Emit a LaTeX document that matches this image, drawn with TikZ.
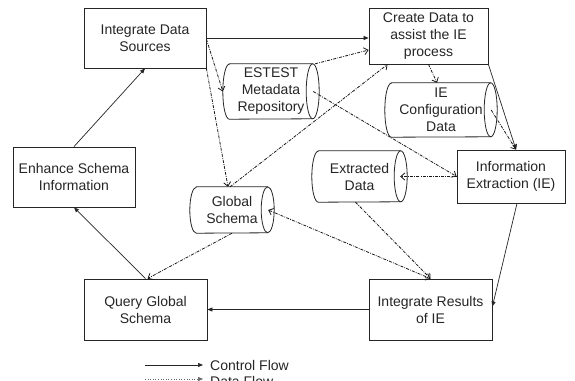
\documentclass[tikz,border=0pt]{standalone}
\usepackage{fontspec}
\setmainfont{Liberation Sans}
\usetikzlibrary{arrows.meta,calc}
\tikzset{
  lbl/.style={font=\fontsize{14}{17}\selectfont, text=black!85},
  box/.style={lbl, draw=black!85, line width=0.8pt, align=center, inner sep=2pt},
  cyltext/.style={lbl, align=center, inner sep=0pt},
  cylline/.style={draw=black!85, line width=0.8pt},
  ctrl/.style={draw=black!85, line width=0.7pt, -{Triangle[length=5pt,width=4pt]}},
  dataf/.style={draw=black!90, line width=0.8pt, dash pattern=on 3pt off 1.2pt on 0.8pt off 1.2pt, -{Straight Barb[length=4pt,width=7pt]}},
  datab/.style={dataf, {Straight Barb[length=4pt,width=7pt]}-{Straight Barb[length=4pt,width=7pt]}},
}
\newcommand\mycyl[6]{%
  \node[cyltext, minimum width=#4pt, minimum height=#5pt] (#1) at (#2,#3) {#6};
  \draw[cylline] ($(#1.north west)+(6.5,0)$) -- ($(#1.north east)+(-6.5,0)$)
     arc[start angle=90,end angle=-90,x radius=6.5pt,y radius=#5pt/2]
     -- ($(#1.south west)+(6.5,0)$)
     arc[start angle=270,end angle=90,x radius=6.5pt,y radius=#5pt/2] -- cycle;
  \draw[cylline] ($(#1.north east)+(-6.5,0)$)
     arc[start angle=90,end angle=270,x radius=6.5pt,y radius=#5pt/2];
}
\begin{document}
\begin{tikzpicture}[x=1pt,y=1pt]
\clip (0,0) rectangle (575,380);
\useasboundingbox (0,0) rectangle (575,380);
\fill[white] (0,0) rectangle (575,380);

% process boxes
\node[box, minimum width=122pt, minimum height=60pt] (ids) at (145,342) {Integrate Data\\Sources};
\node[box, minimum width=122pt, minimum height=60pt] (esi) at (74,203) {Enhance Schema\\Information};
\node[box, minimum width=123pt, minimum height=61pt] (qgs) at (145.5,70.5) {Query Global\\Schema};
\node[box, minimum width=123pt, minimum height=61pt] (irie) at (430.5,70.5) {Integrate Results\\of IE};
\node[box, minimum width=108pt, minimum height=53pt] (ie) at (511,203.5) {Information\\Extraction (IE)};
\node[box, minimum width=119pt, minimum height=56pt] (cd) at (428.5,344) {Create Data to\\assist the IE\\process};

% data stores
\mycyl{est}{271}{288.5}{96}{55}{ESTEST\\Metadata\\Repository}
\mycyl{iec}{441}{270}{112}{54}{IE\\Configuration\\Data}
\mycyl{exd}{359.5}{203.5}{95}{51}{Extracted\\Data}
\mycyl{gs}{232}{170}{84}{46}{Global\\Schema}

% control flow
\draw[ctrl] (esi.north) -- (ids.south);
\draw[ctrl] (ids.east) -- (ids.east -| cd.west);
\draw[ctrl] (cd.south east) -- ($(ie.north)+(5,0)$);
\draw[ctrl] ($(ie.south)+(6,0)$) -- ($(irie.east)+(0,3)$);
\draw[ctrl] (irie.west) -- (qgs.east);
\draw[ctrl] (qgs.north) -- (esi.south);

% data flow
\draw[dataf] ($(ids.east)+(0,-1)$) -- (est.west);
\draw[dataf] (ids.south east) -- ($(gs.north)+(-4,0)$);
\draw[dataf] ($(gs.north)+(-2,0)$) -- ($(cd.south west)+(19,0)$);
\draw[dataf] ($(est.north east)+(-4,0)$) -- ($(cd.west)+(0,-14)$);
\draw[dataf] ($(est.east)+(-6,0)$) -- (ie.west);
\draw[dataf] (cd.south) -- ($(iec.north)+(-4,0)$);
\draw[dataf] ($(iec.east)+(-6,0)$) -- ($(ie.north)+(5,0)$);
\draw[dataf] (ie.west) -- ($(exd.east)+(-7,0)$);
\draw[dataf] ($(exd.south)+(-4,0)$) -- (irie.north);
\draw[datab] ($(gs.east)+(-6,0)$) -- (irie.north);
\draw[dataf] (gs.south) -- ($(qgs.north)+(2,0)$);

% legend
\coordinate (lca) at (145,15);
\coordinate (lcb) at (203,15);
\draw[ctrl] (lca) -- (lcb);
\node[lbl, anchor=west, inner sep=0pt] (lcf) at (210,15) {Control Flow};
\coordinate (lda) at (145,1);
\coordinate (ldb) at (203,1);
\draw[draw=black!60, line width=0.6pt, dotted, -{Triangle[length=5pt,width=4pt]}] (lda) -- (ldb);
\node[lbl, anchor=west, inner sep=0pt] (ldf) at (210,-1) {Data Flow};
\end{tikzpicture}
\end{document}
